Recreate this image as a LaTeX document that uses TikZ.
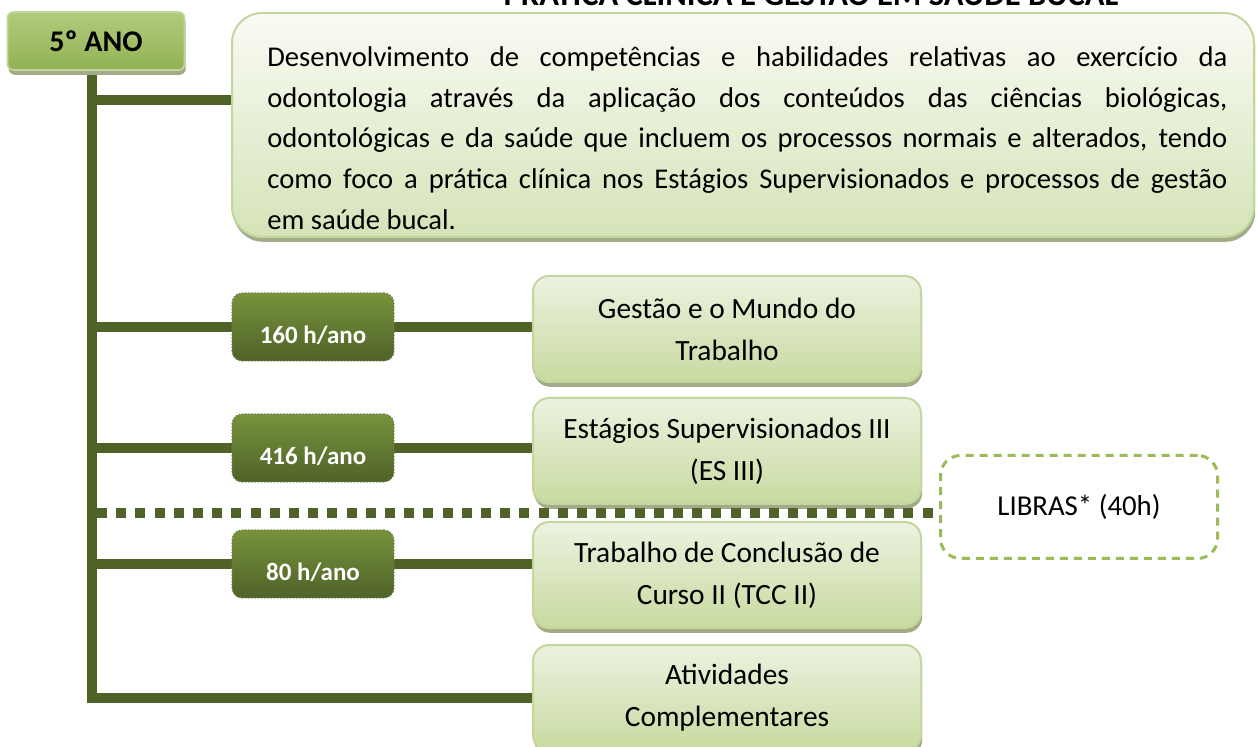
\documentclass[tikz,border=0pt]{standalone}
\usepackage{fontspec}
\setmainfont{Carlito}
\usepackage{xcolor}
\usetikzlibrary{shadows,backgrounds}
\definecolor{ramo}{RGB}{79,98,40}
\definecolor{anoA}{RGB}{178,203,125}
\definecolor{anoB}{RGB}{146,178,82}
\definecolor{borda}{RGB}{195,214,155}
\definecolor{sombra}{RGB}{163,170,138}
\definecolor{horaA}{RGB}{119,147,60}
\definecolor{horaB}{RGB}{79,98,40}
\definecolor{discA}{RGB}{236,242,224}
\definecolor{discB}{RGB}{200,218,160}
\definecolor{princA}{RGB}{249,251,244}
\definecolor{princB}{RGB}{213,227,184}
\definecolor{librasverde}{RGB}{155,187,89}
\tikzset{
  sombreado/.style={drop shadow={shadow xshift=0.6pt,shadow yshift=-2.4pt,fill=sombra,opacity=1}},
  ano/.style={rectangle,rounded corners=3pt,draw=borda,line width=0.8pt,top color=anoA,bottom color=anoB,
    sombreado,minimum width=88.5pt,minimum height=29pt,font=\bfseries\fontsize{15}{18}\selectfont},
  principal/.style={rectangle,rounded corners=15pt,draw=borda,line width=1pt,top color=princA,bottom color=princB,
    sombreado,minimum width=511pt,minimum height=112pt},
  texto/.style={text width=480pt,align=justify,inner sep=0pt,font=\fontsize{14.3}{20.4}\selectfont},
  disc/.style={rectangle,rounded corners=8pt,draw=borda,line width=1pt,top color=discA,bottom color=discB,
    sombreado,minimum width=194pt,minimum height=53pt,align=center,
    font=\fontsize{14.7}{21}\selectfont},
  hora/.style={rectangle,rounded corners=5pt,draw=ramo!80,densely dotted,line width=0.6pt,top color=horaA,bottom color=horaB,
    minimum width=81pt,minimum height=34pt,text=white,text height=17pt,text depth=0pt,
    font=\bfseries\fontsize{12.5}{15}\selectfont},
  librasbox/.style={rectangle,rounded corners=10pt,draw=librasverde,dash pattern=on 4pt off 3pt,line width=1.5pt,
    fill=white,minimum width=138.5pt,minimum height=51.5pt,font=\fontsize{14.4}{17}\selectfont},
  ramo/.style={draw=ramo,line width=5pt},
  corte/.style={draw=ramo,line width=5pt,dash pattern=on 5pt off 4.6pt},
  titulo/.style={anchor=base,font=\bfseries\fontsize{16.3}{19}\selectfont}
}
\newcommand{\discpt}[3]{\node[disc] at (#1) (#2) {#3}}
\newcommand{\horapt}[3]{\node[hora] at (#1) (#2) {#3}}

\begin{document}
\begin{tikzpicture}[x=0.5pt,y=-0.5pt]
  \clip (0,0) rectangle (1257,747);
  \node[titulo] at (811,6) (titulo) {PRÁTICA CLÍNICA E GESTÃO EM SAÚDE BUCAL};
  \node[ano] at (96,41) (ano) {5º ANO};
  \node[principal] at (743,125) (principal) {};
  \node[texto,anchor=north west] at (267,46) (objetivo) {\hyphenpenalty=10000\tolerance=10000
    Desenvolvimento de competências e habilidades relativas ao exercício da\linebreak
    odontologia através da aplicação dos conteúdos das ciências biológicas,\linebreak
    odontológicas e da saúde que incluem os processos normais e alterados, tendo\linebreak
    como foco a prática clínica nos Estágios Supervisionados e processos de gestão\linebreak
    em saúde bucal.};
  \discpt{727,329}{gestao}{Gestão e o Mundo do\\Trabalho};
  \discpt{727,451}{estagios}{Estágios Supervisionados III\\(ES III)};
  \discpt{727,575}{tcc}{Trabalho de Conclusão de\\Curso II (TCC II)};
  \discpt{727,698}{ativ}{Atividades\\Complementares};
  \horapt{313,327}{h160}{160 h/ano};
  \horapt{313,448}{h416}{416 h/ano};
  \horapt{313,564}{h80}{80 h/ano};
  \node[librasbox] at (1079,507) (libras) {LIBRAS* (40h)};
  \coordinate (raiz) at (92,72);
  \coordinate (topo) at (92,100);
  \coordinate (linha) at (97,513);
  \begin{pgfonlayer}{background}
    \draw[ramo] (raiz) -- (raiz |- ativ.west) -- (ativ.west);
    \draw[ramo]
          (topo) -- (topo -| principal.west)
          (raiz |- h160) -- (h160 -| gestao.west)
          (raiz |- h416) -- (h416 -| estagios.west)
          (raiz |- h80)  -- (h80 -| tcc.west);
  \end{pgfonlayer}
  \draw[corte] (linha) -- (linha -| libras.west);
\end{tikzpicture}
\end{document}
